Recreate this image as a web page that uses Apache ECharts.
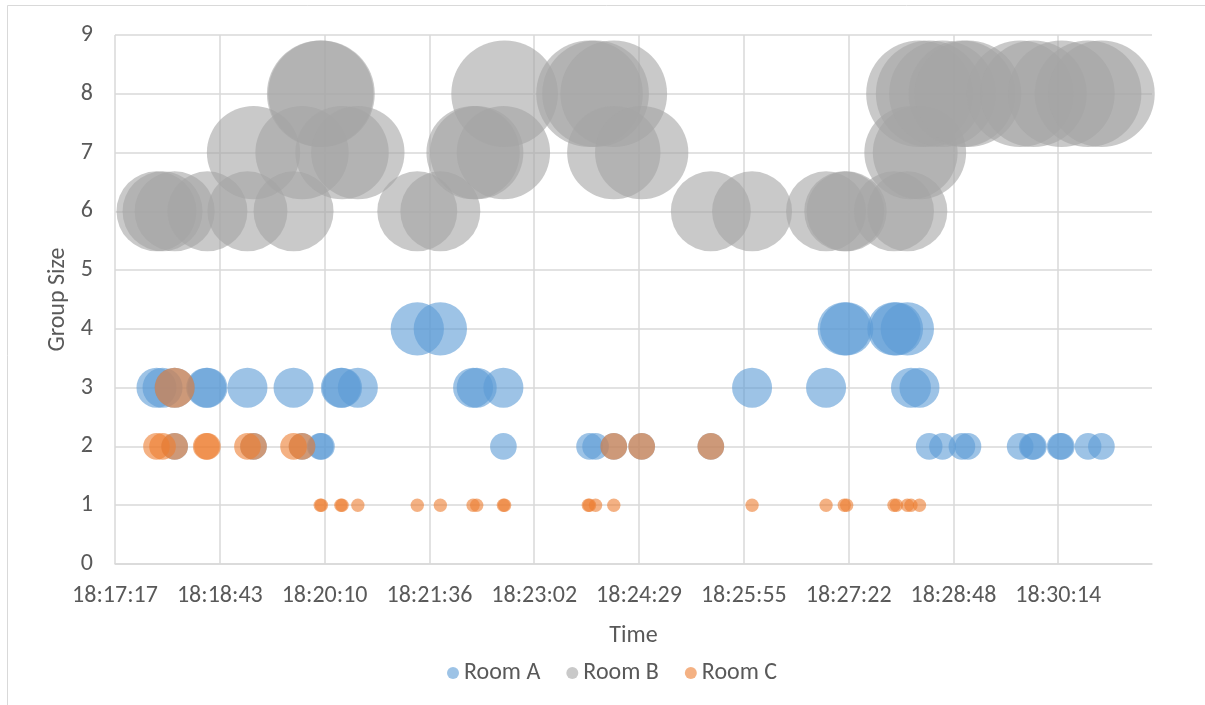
<!DOCTYPE html>
<html>
<head>
<meta charset="utf-8">
<title>Group Size over Time</title>
<script src="https://cdn.jsdelivr.net/npm/echarts@6/dist/echarts.min.js"></script>
<style>
  html, body { margin: 0; padding: 0; background: #ffffff; }
  #chart { width: 1205px; height: 705px; }
</style>
</head>
<body>
<div id="chart"></div>
<script>
// Observations per room: time of the reading and the group size present.
const ROOM_A_TIMES = [
  '18:17:51', '18:17:56', '18:18:06', '18:18:06', '18:18:32', '18:18:33', '18:19:06', '18:19:11',
  '18:19:44', '18:19:51', '18:20:06', '18:20:07', '18:20:23', '18:20:24', '18:20:37', '18:21:26',
  '18:21:45', '18:22:12', '18:22:15', '18:22:37', '18:22:37', '18:23:48', '18:23:53', '18:24:08',
  '18:24:31', '18:25:28', '18:26:02', '18:27:03', '18:27:18', '18:27:20', '18:27:59', '18:28:01',
  '18:28:10', '18:28:13', '18:28:20', '18:28:28', '18:28:39', '18:28:55', '18:29:00', '18:29:43',
  '18:29:53', '18:29:54', '18:30:16', '18:30:17', '18:30:39', '18:30:50'
];
const ROOM_A_SIZES = [
  3, 3, 3, 2, 3, 3, 3, 2,
  3, 2, 2, 2, 3, 3, 3, 4,
  4, 3, 3, 3, 2, 2, 2, 2,
  2, 2, 3, 3, 4, 4, 4, 4,
  4, 3, 3, 2, 2, 2, 2, 2,
  2, 2, 2, 2, 2, 2
];

const ROOM_B_TIMES = [
  '18:17:51', '18:17:56', '18:18:06', '18:18:33', '18:19:06', '18:19:11', '18:19:44', '18:19:51',
  '18:20:06', '18:20:07', '18:20:24', '18:20:37', '18:21:26', '18:21:45', '18:22:12', '18:22:15',
  '18:22:37', '18:22:38', '18:23:48', '18:23:53', '18:24:08', '18:24:08', '18:24:31', '18:25:28',
  '18:26:02', '18:27:03', '18:27:18', '18:27:20', '18:27:59', '18:28:10', '18:28:13', '18:28:20',
  '18:28:20', '18:28:28', '18:28:39', '18:28:55', '18:29:00', '18:29:43', '18:29:54', '18:30:17',
  '18:30:39', '18:30:50'
];
const ROOM_B_SIZES = [
  6, 6, 6, 6, 6, 7, 6, 7,
  8, 8, 7, 7, 6, 6, 7, 7,
  7, 8, 8, 8, 8, 7, 7, 6,
  6, 6, 6, 6, 6, 6, 7, 7,
  8, 8, 8, 8, 8, 8, 8, 8,
  8, 8
];

const ROOM_C_TIMES = [
  '18:17:51', '18:17:56', '18:18:06', '18:18:06', '18:18:32', '18:18:33', '18:19:06', '18:19:11',
  '18:19:44', '18:19:51', '18:20:06', '18:20:07', '18:20:23', '18:20:24', '18:20:37', '18:21:26',
  '18:21:45', '18:22:12', '18:22:15', '18:22:37', '18:22:38', '18:23:47', '18:23:48', '18:23:53',
  '18:24:08', '18:24:08', '18:24:31', '18:25:28', '18:26:02', '18:27:03', '18:27:18', '18:27:20',
  '18:27:59', '18:28:01', '18:28:10', '18:28:13', '18:28:20'
];
const ROOM_C_SIZES = [
  2, 2, 3, 2, 2, 2, 2, 2,
  2, 2, 1, 1, 1, 1, 1, 1,
  1, 1, 1, 1, 1, 1, 1, 1,
  2, 1, 2, 2, 1, 1, 1, 1,
  1, 1, 1, 1, 1
];

const SERIES_NAMES = ['Room A', 'Room B', 'Room C'];
const Y_TICKS = [0, 1, 2, 3, 4, 5, 6, 7, 8, 9];

// Time axis runs in milliseconds since midnight; ticks every 86.4 s (1/1000 of a day).
const AXIS_START_MS = 65836800;   // 18:17:16.8
const AXIS_END_MS = 66691700;
const AXIS_STEP_MS = 86400;

const BUBBLE_PX_PER_UNIT = 13.33;  // bubble diameter grows with group size
const FONT = 'Carlito, Lato, "Open Sans", sans-serif';
const TEXT_COLOR = '#595959';
const GRID_COLOR = '#d9d9d9';

function toMs(hms) {
  const p = hms.split(':').map(Number);
  return ((p[0] * 60 + p[1]) * 60 + p[2]) * 1000;
}
function pad(n) { return (n < 10 ? '0' : '') + n; }
function formatTime(ms) {
  const s = Math.round(ms / 1000);
  return pad(Math.floor(s / 3600)) + ':' + pad(Math.floor(s / 60) % 60) + ':' + pad(s % 60);
}
function pairs(times, sizes) {
  return times.map((t, i) => [toMs(t), sizes[i]]);
}

const colors = ['rgba(91,155,213,0.75)', 'rgba(165,165,165,0.75)', 'rgba(237,125,49,0.75)'];
const dataSets = [
  pairs(ROOM_A_TIMES, ROOM_A_SIZES),
  pairs(ROOM_B_TIMES, ROOM_B_SIZES),
  pairs(ROOM_C_TIMES, ROOM_C_SIZES)
];

const chart = echarts.init(document.getElementById('chart'), null, { renderer: 'canvas' });

chart.setOption({
  animation: false,
  backgroundColor: '#ffffff',
  textStyle: { fontFamily: FONT },
  graphic: [{
    type: 'rect',
    shape: { x: 7.5, y: 5.5, width: 1220, height: 720 },
    style: { fill: 'none', stroke: GRID_COLOR, lineWidth: 1 },
    silent: true,
    z: -10
  }],
  grid: { left: 115, right: 53, top: 35, bottom: 141, containLabel: false },
  legend: {
    data: SERIES_NAMES,
    left: 442,
    top: 656,
    icon: 'circle',
    itemWidth: 12,
    itemHeight: 12,
    itemGap: 26,
    textStyle: { fontFamily: FONT, fontSize: 24, color: TEXT_COLOR }
  },
  xAxis: {
    type: 'value',
    min: AXIS_START_MS,
    max: AXIS_END_MS,
    interval: AXIS_STEP_MS,
    name: 'Time',
    nameLocation: 'middle',
    nameGap: 60,
    nameTextStyle: { fontFamily: FONT, fontSize: 24, color: TEXT_COLOR },
    axisLine: { show: true, lineStyle: { color: GRID_COLOR, width: 1.5 } },
    axisTick: { show: false },
    axisLabel: {
      margin: 20,
      fontFamily: FONT,
      fontSize: 24,
      color: TEXT_COLOR,
      showMaxLabel: false,
      formatter: formatTime
    },
    splitLine: { show: true, showMaxLine: false, lineStyle: { color: GRID_COLOR, width: 1.5 } }
  },
  yAxis: {
    type: 'value',
    min: Y_TICKS[0],
    max: Y_TICKS[Y_TICKS.length - 1],
    interval: 1,
    name: 'Group Size',
    nameLocation: 'middle',
    nameGap: 45,
    nameTextStyle: { fontFamily: FONT, fontSize: 24, color: TEXT_COLOR },
    axisLine: { show: false },
    axisTick: { show: false },
    axisLabel: { margin: 22, fontFamily: FONT, fontSize: 24, color: TEXT_COLOR },
    splitLine: { show: true, lineStyle: { color: GRID_COLOR, width: 1.5 } }
  },
  series: SERIES_NAMES.map((name, i) => ({
    name: name,
    type: 'scatter',
    data: dataSets[i],
    clip: false,
    symbol: 'circle',
    symbolSize: v => v[1] * BUBBLE_PX_PER_UNIT,
    itemStyle: { color: colors[i] },
    emphasis: { disabled: true },
    z: 2 + i
  }))
});
</script>
</body>
</html>
